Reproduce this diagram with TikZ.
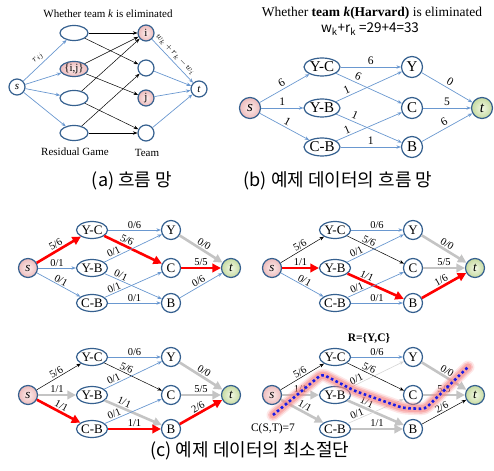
\documentclass[tikz,border=0pt]{standalone}
\usepackage{fontspec}
\setmainfont{Liberation Serif}
\newfontfamily\krfont{Noto Sans CJK KR}
\usetikzlibrary{arrows.meta,shapes.geometric}

\definecolor{nodeblue}{HTML}{35608F}
\definecolor{edgeblue}{HTML}{6A98D0}
\definecolor{pinkin}{HTML}{FCEDED}
\definecolor{pinkout}{HTML}{EDBBBB}
\definecolor{greenin}{HTML}{F2F8E6}
\definecolor{greenout}{HTML}{C6DAA0}
\definecolor{flowgray}{HTML}{C4C4C4}
\definecolor{palegray}{HTML}{D4D4D4}
\definecolor{cutblue}{HTML}{1A1AE6}
\definecolor{glow}{HTML}{F58A8A}

\tikzset{
  nd/.style={draw=nodeblue, line width=1.2pt, fill=white, inner sep=0pt,
             font=\fontsize{13}{14}\selectfont},
  game/.style={nd, ellipse, minimum width=31pt, minimum height=17pt},
  team/.style={nd, circle, minimum size=19pt},
  pinknode/.style={inner color=pinkin, outer color=pinkout},
  greennode/.style={inner color=greenin, outer color=greenout},
  bl/.style={draw=edgeblue, line width=0.7pt, -{Stealth[length=4.5pt,width=3.5pt]}},
  bk/.style={draw=black, line width=0.5pt, -{Stealth[length=4.5pt,width=3.5pt]}},
  lgy/.style={draw=palegray, line width=0.6pt, -{Stealth[length=4.5pt,width=3.5pt]}},
  rd/.style={draw=red, line width=2.6pt, -{Triangle[length=8.5pt,width=8.5pt]}},
  gy/.style={draw=flowgray, line width=2.6pt, -{Triangle[length=8.5pt,width=8.5pt]}},
  lbl/.style={font=\fontsize{10.5}{11}\selectfont, sloped, above, inner sep=1.2pt},
  captxt/.style={font=\krfont\fontsize{18}{19}\selectfont},
}

% s, three game nodes, three team nodes and t of one flow network
% #1 prefix, #2 x of s, #3 x of games, #4 x of teams, #5 x of t, #6-#8 row heights
\newcommand\flownet[8]{%
  \node[team,pinknode] (#1s) at (#2,#7) {\textit{s}};
  \node[game] (#1yc) at (#3,#6) {Y-C};
  \node[game] (#1yb) at (#3,#7) {Y-B};
  \node[game] (#1cb) at (#3,#8) {C-B};
  \node[team] (#1y) at (#4,#6) {Y};
  \node[team] (#1c) at (#4,#7) {C};
  \node[team] (#1b) at (#4,#8) {B};
  \node[team,greennode] (#1t) at (#5,#7) {\textit{t}};
}

\begin{document}
\begin{tikzpicture}[x=1pt,y=-1pt]
\useasboundingbox (0,0) rectangle (494,470);

% ---------------- (a) general flow network ----------------
\begin{scope}[nd/.append style={font=\fontsize{11}{12}\selectfont},
              game/.append style={minimum width=28pt, minimum height=15pt},
              team/.append style={minimum size=16pt},
              lbl/.append style={font=\fontsize{9.5}{10}\selectfont, inner sep=2.5pt}]
  \node[font=\fontsize{11}{12}\selectfont] (atitle) at (108,14) {Whether team \textit{k} is eliminated};
  \node[team] (as) at (17,87) {\textit{s}};
  \node[game] (ag1) at (74,33) {};
  \node[game,pinknode] (ag2) at (74,69) {\{i,j\}};
  \node[game] (ag3) at (74,98) {};
  \node[game] (ag4) at (74,133) {};
  \node[team,pinknode] (ai) at (146,33) {i};
  \node[team] (ak2) at (146,68) {};
  \node[team,pinknode] (aj) at (146,98) {j};
  \node[team] (ak4) at (146,133) {};
  \node[team] (at) at (199,89) {\textit{t}};
  \node[font=\fontsize{11}{12}\selectfont] (alres) at (75,152) {Residual Game};
  \node[font=\fontsize{11}{12}\selectfont] (alteam) at (147,153) {Team};

  \draw[bl] (as) -- node[lbl,pos=0.45]{$r_{ij}$} (ag1);
  \draw[bl] (as) -- (ag2);
  \draw[bl] (as) -- (ag3);
  \draw[bl] (as) -- (ag4);
  \draw[bk] (ag1) -- (ai);
  \draw[bk] (ag1) -- (ak2);
  \draw[bk] (ag2) -- (ai);
  \draw[bk] (ag2) -- (aj);
  \draw[bk] (ag3) -- (ai);
  \draw[bk] (ag3) -- (ak4);
  \draw[bk] (ag4) -- (ak2);
  \draw[bk] (ag4) -- (ak4);
  \draw[bl] (ai) -- node[lbl,pos=0.45]{$w_k+r_k-w_i$} (at);
  \draw[bl] (ak2) -- (at);
  \draw[bl] (aj) -- (at);
  \draw[bl] (ak4) -- (at);
\end{scope}
\node[captxt] (acap) at (132,181) {(a) 흐름 망};

% ---------------- (b) flow network of the example ----------------
\node[font=\fontsize{13.5}{14}\selectfont] (btitle) at (372,13)
  {Whether \textbf{team \textit{k}(Harvard)} is eliminated};
\node[font=\krfont\fontsize{13.5}{14}\selectfont] (bsum) at (370,29)
  {w\textsubscript{k}+r\textsubscript{k} =29+4=33};
\begin{scope}[nd/.append style={font=\fontsize{15}{16}\selectfont},
              game/.append style={minimum width=36pt, minimum height=18pt},
              team/.append style={minimum size=21pt},
              lbl/.append style={font=\fontsize{11.5}{12}\selectfont, inner sep=2pt}]
  \flownet{b}{250}{322}{412}{482}{67}{108}{147}
  \draw[bl] (bs) -- node[lbl]{6} (byc);
  \draw[bl] (bs) -- node[lbl]{1} (byb);
  \draw[bl] (bs) -- node[lbl]{1} (bcb);
  \draw[bl] (byc) -- node[lbl]{6} (by);
  \draw[bl] (byc) -- node[lbl,pos=0.3]{6} (bc);
  \draw[bl] (byb) -- node[lbl,pos=0.2]{1} (by);
  \draw[bl] (byb) -- node[lbl,pos=0.25]{1} (bb);
  \draw[bl] (bcb) -- node[lbl,pos=0.2]{1} (bc);
  \draw[bl] (bcb) -- node[lbl]{1} (bb);
  \draw[bl] (by) -- node[lbl]{0} (bt);
  \draw[bl] (bc) -- node[lbl]{5} (bt);
  \draw[bl] (bb) -- node[lbl]{6} (bt);
\end{scope}
\node[captxt] (bcap) at (338,181) {(b) 예제 데이터의 흐름 망};

% ---------------- (c) augmenting paths and minimum cut ----------------
% first augmenting path
\flownet{p}{28}{92}{171}{231}{230}{268}{303}
\draw[rd] (ps) -- node[lbl]{5/6} (pyc);
\draw[bl] (ps) -- node[lbl]{0/1} (pyb);
\draw[bl] (ps) -- node[lbl]{0/1} (pcb);
\draw[bl] (pyc) -- node[lbl]{0/6} (py);
\draw[rd] (pyc) -- node[lbl,pos=0.35]{5/6} (pc);
\draw[bl] (pyb) -- node[lbl,pos=0.2]{0/1} (py);
\draw[bl] (pyb) -- node[lbl,pos=0.25]{0/1} (pb);
\draw[bl] (pcb) -- node[lbl,pos=0.2]{0/1} (pc);
\draw[bl] (pcb) -- node[lbl]{0/1} (pb);
\draw[gy] (py) -- node[lbl]{0/0} (pt);
\draw[rd] (pc) -- node[lbl]{5/5} (pt);
\draw[bl] (pb) -- node[lbl]{0/6} (pt);

% second augmenting path
\flownet{q}{272}{335}{413}{475}{230}{268}{303}
\draw[bk] (qs) -- node[lbl]{5/6} (qyc);
\draw[rd] (qs) -- node[lbl]{1/1} (qyb);
\draw[bl] (qs) -- node[lbl]{0/1} (qcb);
\draw[bl] (qyc) -- node[lbl]{0/6} (qy);
\draw[bk] (qyc) -- node[lbl,pos=0.35]{5/6} (qc);
\draw[bl] (qyb) -- node[lbl,pos=0.2]{0/1} (qy);
\draw[rd] (qyb) -- node[lbl,pos=0.3]{1/1} (qb);
\draw[bl] (qcb) -- node[lbl,pos=0.2]{0/1} (qc);
\draw[bl] (qcb) -- node[lbl]{0/1} (qb);
\draw[gy] (qy) -- node[lbl]{0/0} (qt);
\draw[gy] (qc) -- node[lbl]{5/5} (qt);
\draw[rd] (qb) -- node[lbl]{1/6} (qt);

% third augmenting path
\flownet{u}{28}{92}{171}{231}{357}{395}{429}
\draw[bk] (us) -- node[lbl]{5/6} (uyc);
\draw[gy] (us) -- node[lbl]{1/1} (uyb);
\draw[rd] (us) -- node[lbl]{1/1} (ucb);
\draw[bl] (uyc) -- node[lbl]{0/6} (uy);
\draw[bk] (uyc) -- node[lbl,pos=0.35]{5/6} (uc);
\draw[bl] (uyb) -- node[lbl,pos=0.2]{0/1} (uy);
\draw[gy] (uyb) -- node[lbl,pos=0.3]{1/1} (ub);
\draw[bl] (ucb) -- node[lbl,pos=0.2]{0/1} (uc);
\draw[rd] (ucb) -- node[lbl]{1/1} (ub);
\draw[gy] (uy) -- node[lbl]{0/0} (ut);
\draw[gy] (uc) -- node[lbl]{5/5} (ut);
\draw[rd] (ub) -- node[lbl]{2/6} (ut);

% final flow with the minimum cut
\node[font=\bfseries\fontsize{11.5}{12}\selectfont] (rset) at (369,338) {R=\{Y,C\}};
\node[font=\fontsize{11.5}{12}\selectfont] (cst) at (273,429) {C(S,T)=7};
\flownet{v}{272}{335}{413}{475}{357}{395}{429}
\draw[bk] (vs) -- node[lbl]{5/6} (vyc);
\draw[gy] (vs) -- node[lbl]{1/1} (vyb);
\draw[gy] (vs) -- node[lbl]{1/1} (vcb);
\draw[bl] (vyc) -- node[lbl]{0/6} (vy);
\draw[bk] (vyc) -- node[lbl,pos=0.35]{5/6} (vc);
\draw[lgy] (vyb) -- node[lbl,pos=0.2]{0/1} (vy);
\draw[gy] (vyb) -- node[lbl,pos=0.3]{1/1} (vb);
\draw[lgy] (vcb) -- node[lbl,pos=0.2]{0/1} (vc);
\draw[gy] (vcb) -- node[lbl]{1/1} (vb);
\draw[gy] (vy) -- node[lbl]{0/0} (vt);
\draw[gy] (vc) -- node[lbl]{5/5} (vt);
\draw[bk] (vb) -- node[lbl]{2/6} (vt);

% the cut, drawn as a dotted line over a soft pink halo
\coordinate (cut1) at (273,415);
\coordinate (cut2) at (322,374);
\coordinate (cut3) at (355,391);
\coordinate (cut4) at (403,408);
\coordinate (cut5) at (425,409);
\coordinate (cut6) at (468,367);
\foreach \w/\o in {13/0.2, 10/0.35, 7/0.5}{
  \draw[glow, line width=\w pt, opacity=\o, line join=round, line cap=round, rounded corners=4pt]
    (cut1) -- (cut2) -- (cut3) -- (cut4) -- (cut5) -- (cut6);
}
\draw[cutblue, line width=2.6pt, dash pattern=on 2.6pt off 2.6pt, rounded corners=4pt]
  (cut1) -- (cut2) -- (cut3) -- (cut4) -- (cut5) -- (cut6);

\node[captxt] (ccap) at (250,451) {(c) 예제 데이터의 최소절단};
\end{tikzpicture}
\end{document}
